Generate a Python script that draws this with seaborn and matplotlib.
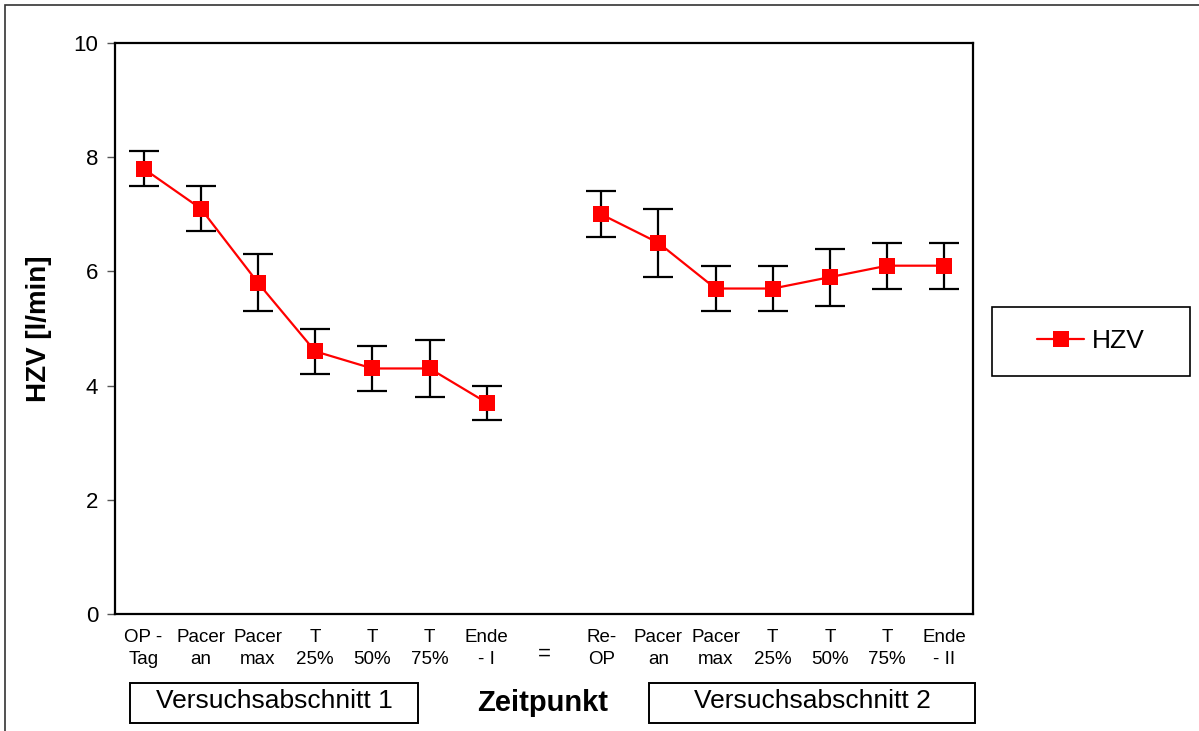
import matplotlib
matplotlib.use("Agg")
import matplotlib.pyplot as plt
import matplotlib.transforms as mtransforms
from matplotlib.patches import Rectangle
import seaborn as sns
import pandas as pd
import numpy as np

# ---- data ----
tick_labels = ["OP -\nTag", "Pacer\nan", "Pacer\nmax", "T\n25%", "T\n50%", "T\n75%", "Ende\n- I",
               "=",
               "Re-\nOP", "Pacer\nan", "Pacer\nmax", "T\n25%", "T\n50%", "T\n75%", "Ende\n- II"]
hzv_part1 = [7.8, 7.1, 5.8, 4.6, 4.3, 4.3, 3.7]
err_part1 = [0.3, 0.4, 0.5, 0.4, 0.4, 0.5, 0.3]
hzv_part2 = [7.0, 6.5, 5.7, 5.7, 5.9, 6.1, 6.1]
err_part2 = [0.4, 0.6, 0.4, 0.4, 0.5, 0.4, 0.4]
y_ticks = [0, 2, 4, 6, 8, 10]
series_name = "HZV"
section_labels = ["Versuchsabschnitt 1", "Versuchsabschnitt 2"]
x_title = "Zeitpunkt"
y_title = "HZV [l/min]"

sns.set_style("white")
plt.rcParams['font.family'] = ['Liberation Sans', 'DejaVu Sans']
plt.rcParams['text.color'] = 'black'
plt.rcParams['axes.labelcolor'] = 'black'
plt.rcParams['xtick.color'] = 'black'
plt.rcParams['ytick.color'] = 'black'

W, H = 1199, 731
fig = plt.figure(figsize=(W / 100, H / 100), dpi=100)
ax = fig.add_axes([115 / W, 1 - 614 / H, (973 - 115) / W, (614 - 43) / H])

pos1 = list(range(0, len(hzv_part1)))
pos2 = list(range(len(hzv_part1) + 1, len(hzv_part1) + 1 + len(hzv_part2)))
df1 = pd.DataFrame({"x": pos1, "y": hzv_part1, "e": err_part1})
df2 = pd.DataFrame({"x": pos2, "y": hzv_part2, "e": err_part2})

red = "#ff0000"
for df, lab in [(df1, series_name), (df2, None)]:
    ax.errorbar(df["x"], df["y"], yerr=df["e"], fmt="none", ecolor="black",
                elinewidth=1.6, capsize=11, capthick=1.6, zorder=2)
    sns.lineplot(data=df, x="x", y="y", ax=ax, color=red, linewidth=1.6,
                 marker="s", markersize=11, markeredgewidth=0, label=lab, zorder=3)

ax.set_xlim(-0.5, len(tick_labels) - 0.5)
ax.set_ylim(0, 10)
ax.set_yticks(y_ticks)
ax.set_xticks(range(len(tick_labels)))
ax.set_xticklabels(tick_labels, fontsize=13.5, linespacing=1.4, color="black")
ax.tick_params(axis="x", length=0, pad=11)
ax.tick_params(axis="y", length=6, width=1, color="#555555", pad=6, labelsize=16,
               labelcolor="black", direction="out", left=True)
ax.set_xlabel("")
ax.set_ylabel(y_title, fontsize=20, fontweight="bold", color="black")
ax.yaxis.set_label_coords(-0.073, 0.5)
for s in ax.spines.values():
    s.set_visible(True)
    s.set_color("black")
    s.set_linewidth(1.6)

# shift "=" label down to center between the two text lines
for t in ax.get_xticklabels():
    if t.get_text() == "=":
        t.set_fontsize(16)
        t.set_transform(t.get_transform() + mtransforms.ScaledTranslation(0, -0.14, fig.dpi_scale_trans))

# legend
leg = ax.legend(loc="center", bbox_to_anchor=(1091 / W, 1 - 341 / H), bbox_transform=fig.transFigure,
                frameon=False, fontsize=19, handlelength=1.8, handletextpad=0.3)
for txt in leg.get_texts():
    txt.set_color("black")
fig.patches.append(Rectangle((992 / W, 1 - 376 / H), (1190 - 992) / W, (376 - 307) / H,
                             transform=fig.transFigure, fill=False, edgecolor="black", linewidth=1.2))

# bottom section boxes and x title
boxes = [(130, 418), (649, 975)]
for (x0, x1), lab in zip(boxes, section_labels):
    fig.patches.append(Rectangle((x0 / W, 1 - 723 / H), (x1 - x0) / W, 40 / H,
                                 transform=fig.transFigure, fill=False, edgecolor="black", linewidth=1.4))
    fig.text((x0 + x1) / 2 / W, 1 - 701 / H, lab, ha="center", va="center", fontsize=19, color="black")
fig.text(543 / W, 1 - 703 / H, x_title, ha="center", va="center", fontsize=21, fontweight="bold", color="black")

# outer border
fig.patches.append(Rectangle((5 / W, -0.05), 1.1, 1 - 5 / H + 0.05, transform=fig.transFigure,
                             fill=False, edgecolor="#333333", linewidth=1.2, clip_on=False))

fig.savefig("out.png", dpi=100)
